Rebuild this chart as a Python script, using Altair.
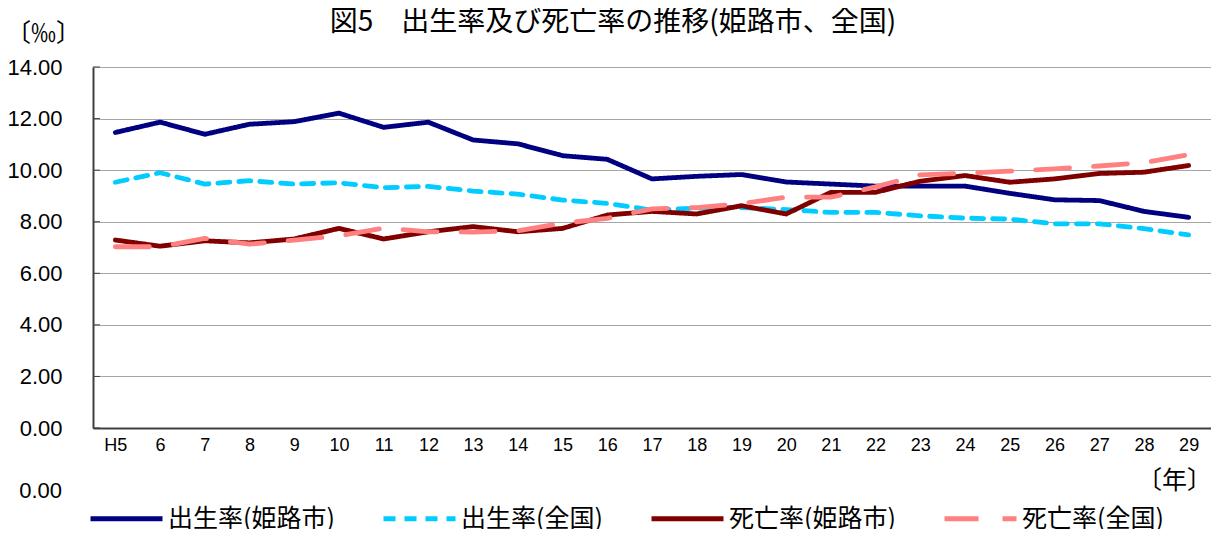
import altair as alt
import pandas as pd

years = ["H5", "6", "7", "8", "9", "10", "11", "12", "13", "14", "15", "16", "17",
         "18", "19", "20", "21", "22", "23", "24", "25", "26", "27", "28", "29"]

himeji_birth = [11.46, 11.86, 11.39, 11.78, 11.88, 12.21, 11.66, 11.86, 11.17, 11.02,
                10.56, 10.42, 9.66, 9.76, 9.83, 9.54, 9.46, 9.38, 9.38, 9.38,
                9.10, 8.85, 8.82, 8.40, 8.17]
national_birth = [9.53, 9.90, 9.46, 9.59, 9.46, 9.51, 9.32, 9.37, 9.19, 9.07,
                  8.84, 8.71, 8.45, 8.53, 8.55, 8.47, 8.36, 8.36, 8.23, 8.14,
                  8.10, 7.92, 7.92, 7.73, 7.49]
himeji_death = [7.29, 7.05, 7.26, 7.18, 7.33, 7.74, 7.33, 7.61, 7.81, 7.61,
                7.74, 8.26, 8.40, 8.30, 8.62, 8.30, 9.14, 9.14, 9.57, 9.79,
                9.53, 9.66, 9.87, 9.92, 10.18]
national_death = [7.03, 7.03, 7.35, 7.13, 7.29, 7.45, 7.75, 7.61, 7.60, 7.65,
                  7.94, 8.13, 8.50, 8.55, 8.70, 8.95, 8.95, 9.35, 9.82, 9.88,
                  9.96, 10.05, 10.16, 10.29, 10.60]

series_names = ["出生率(姫路市)", "出生率(全国)", "死亡率(姫路市)", "死亡率(全国)"]
series_colors = ["#000080", "#00CCFF", "#800000", "#FF8080"]
series_dashes = [[1, 0], [12, 9], [1, 0], [34, 24]]
y_ticks = [0, 2, 4, 6, 8, 10, 12, 14]

title_text = "図5　出生率及び死亡率の推移(姫路市、全国)"
y_unit_text = "〔‰〕"
x_unit_text = "〔年〕"
stray_text = "0.00"

JP = "Noto Sans CJK JP"
NUM = "Liberation Sans"

rows = []
for name, vals in zip(series_names, [himeji_birth, national_birth, himeji_death, national_death]):
    for i, (yr, v) in enumerate(zip(years, vals)):
        rows.append({"year": yr, "value": v, "series": name, "order": i})
df = pd.DataFrame(rows)

x_enc = alt.X("year:N", sort=years, title=None,
              scale=alt.Scale(type="point", padding=0.5),
              axis=alt.Axis(labelAngle=0, ticks=False, grid=False, labelFont=NUM,
                            labelFontSize=18, labelColor="#000000", labelPadding=8,
                            domainColor="#404040", domainWidth=2))
y_enc = alt.Y("value:Q", title=None,
              scale=alt.Scale(domain=[0, 14], nice=False),
              axis=alt.Axis(values=y_ticks, format=".2f", tickSize=0, labelFont=NUM,
                            labelFontSize=22, labelColor="#000000", labelPadding=31,
                            gridColor="#a6a6a6", gridWidth=1,
                            domainColor="#404040", domainWidth=2))

lines = alt.Chart(df).mark_line(strokeWidth=4.8, strokeCap="round", strokeJoin="round").encode(
    x=x_enc,
    y=y_enc,
    color=alt.Color("series:N", sort=series_names,
                    scale=alt.Scale(domain=series_names, range=series_colors),
                    legend=alt.Legend(title=None)),
    strokeDash=alt.StrokeDash("series:N", sort=series_names,
                              scale=alt.Scale(domain=series_names, range=series_dashes),
                              legend=alt.Legend(title=None)),
    order="order:Q",
)

tick_df = pd.DataFrame({"v": y_ticks})
yticks = alt.Chart(tick_df).mark_rule(color="#404040", strokeWidth=1).encode(
    y=alt.Y("v:Q", scale=alt.Scale(domain=[0, 14], nice=False)),
    x=alt.value(0), x2=alt.value(7),
)

one = pd.DataFrame({"a": [0]})
title = alt.Chart(one).mark_text(text=title_text, font=JP, fontSize=28,
                                 align="center", baseline="middle", color="#000000").encode(
    x=alt.value(520), y=alt.value(-44))
yunit = alt.Chart(one).mark_text(text=y_unit_text, font=JP, fontSize=25, align="left",
                                 baseline="middle", color="#000000").encode(
    x=alt.value(-87), y=alt.value(-33))
xunit = alt.Chart(one).mark_text(text=x_unit_text, font=JP, fontSize=25, align="right",
                                 baseline="middle", color="#000000").encode(
    x=alt.value(1119), y=alt.value(414))
stray = alt.Chart(one).mark_text(text=stray_text, font=NUM, fontSize=22, align="right",
                                 baseline="middle", color="#000000").encode(
    x=alt.value(-31), y=alt.value(424))

chart = alt.layer(lines, yticks, title, yunit, xunit, stray).properties(
    width=1118, height=361,
    autosize="none",
    padding={"left": 85, "top": 59, "right": 0, "bottom": 101},
).configure_view(
    stroke="#a6a6a6", strokeWidth=1
).configure_legend(
    orient="none", legendX=-5, legendY=413, direction="horizontal",
    symbolType="stroke", symbolSize=5184, symbolStrokeWidth=4.8,
    labelFont=JP, labelFontSize=25, labelColor="#000000", labelLimit=0,
    labelOffset=3, columnPadding=38, padding=0
)

chart.save("out.html", embed_options={"renderer": "svg", "actions": False})
